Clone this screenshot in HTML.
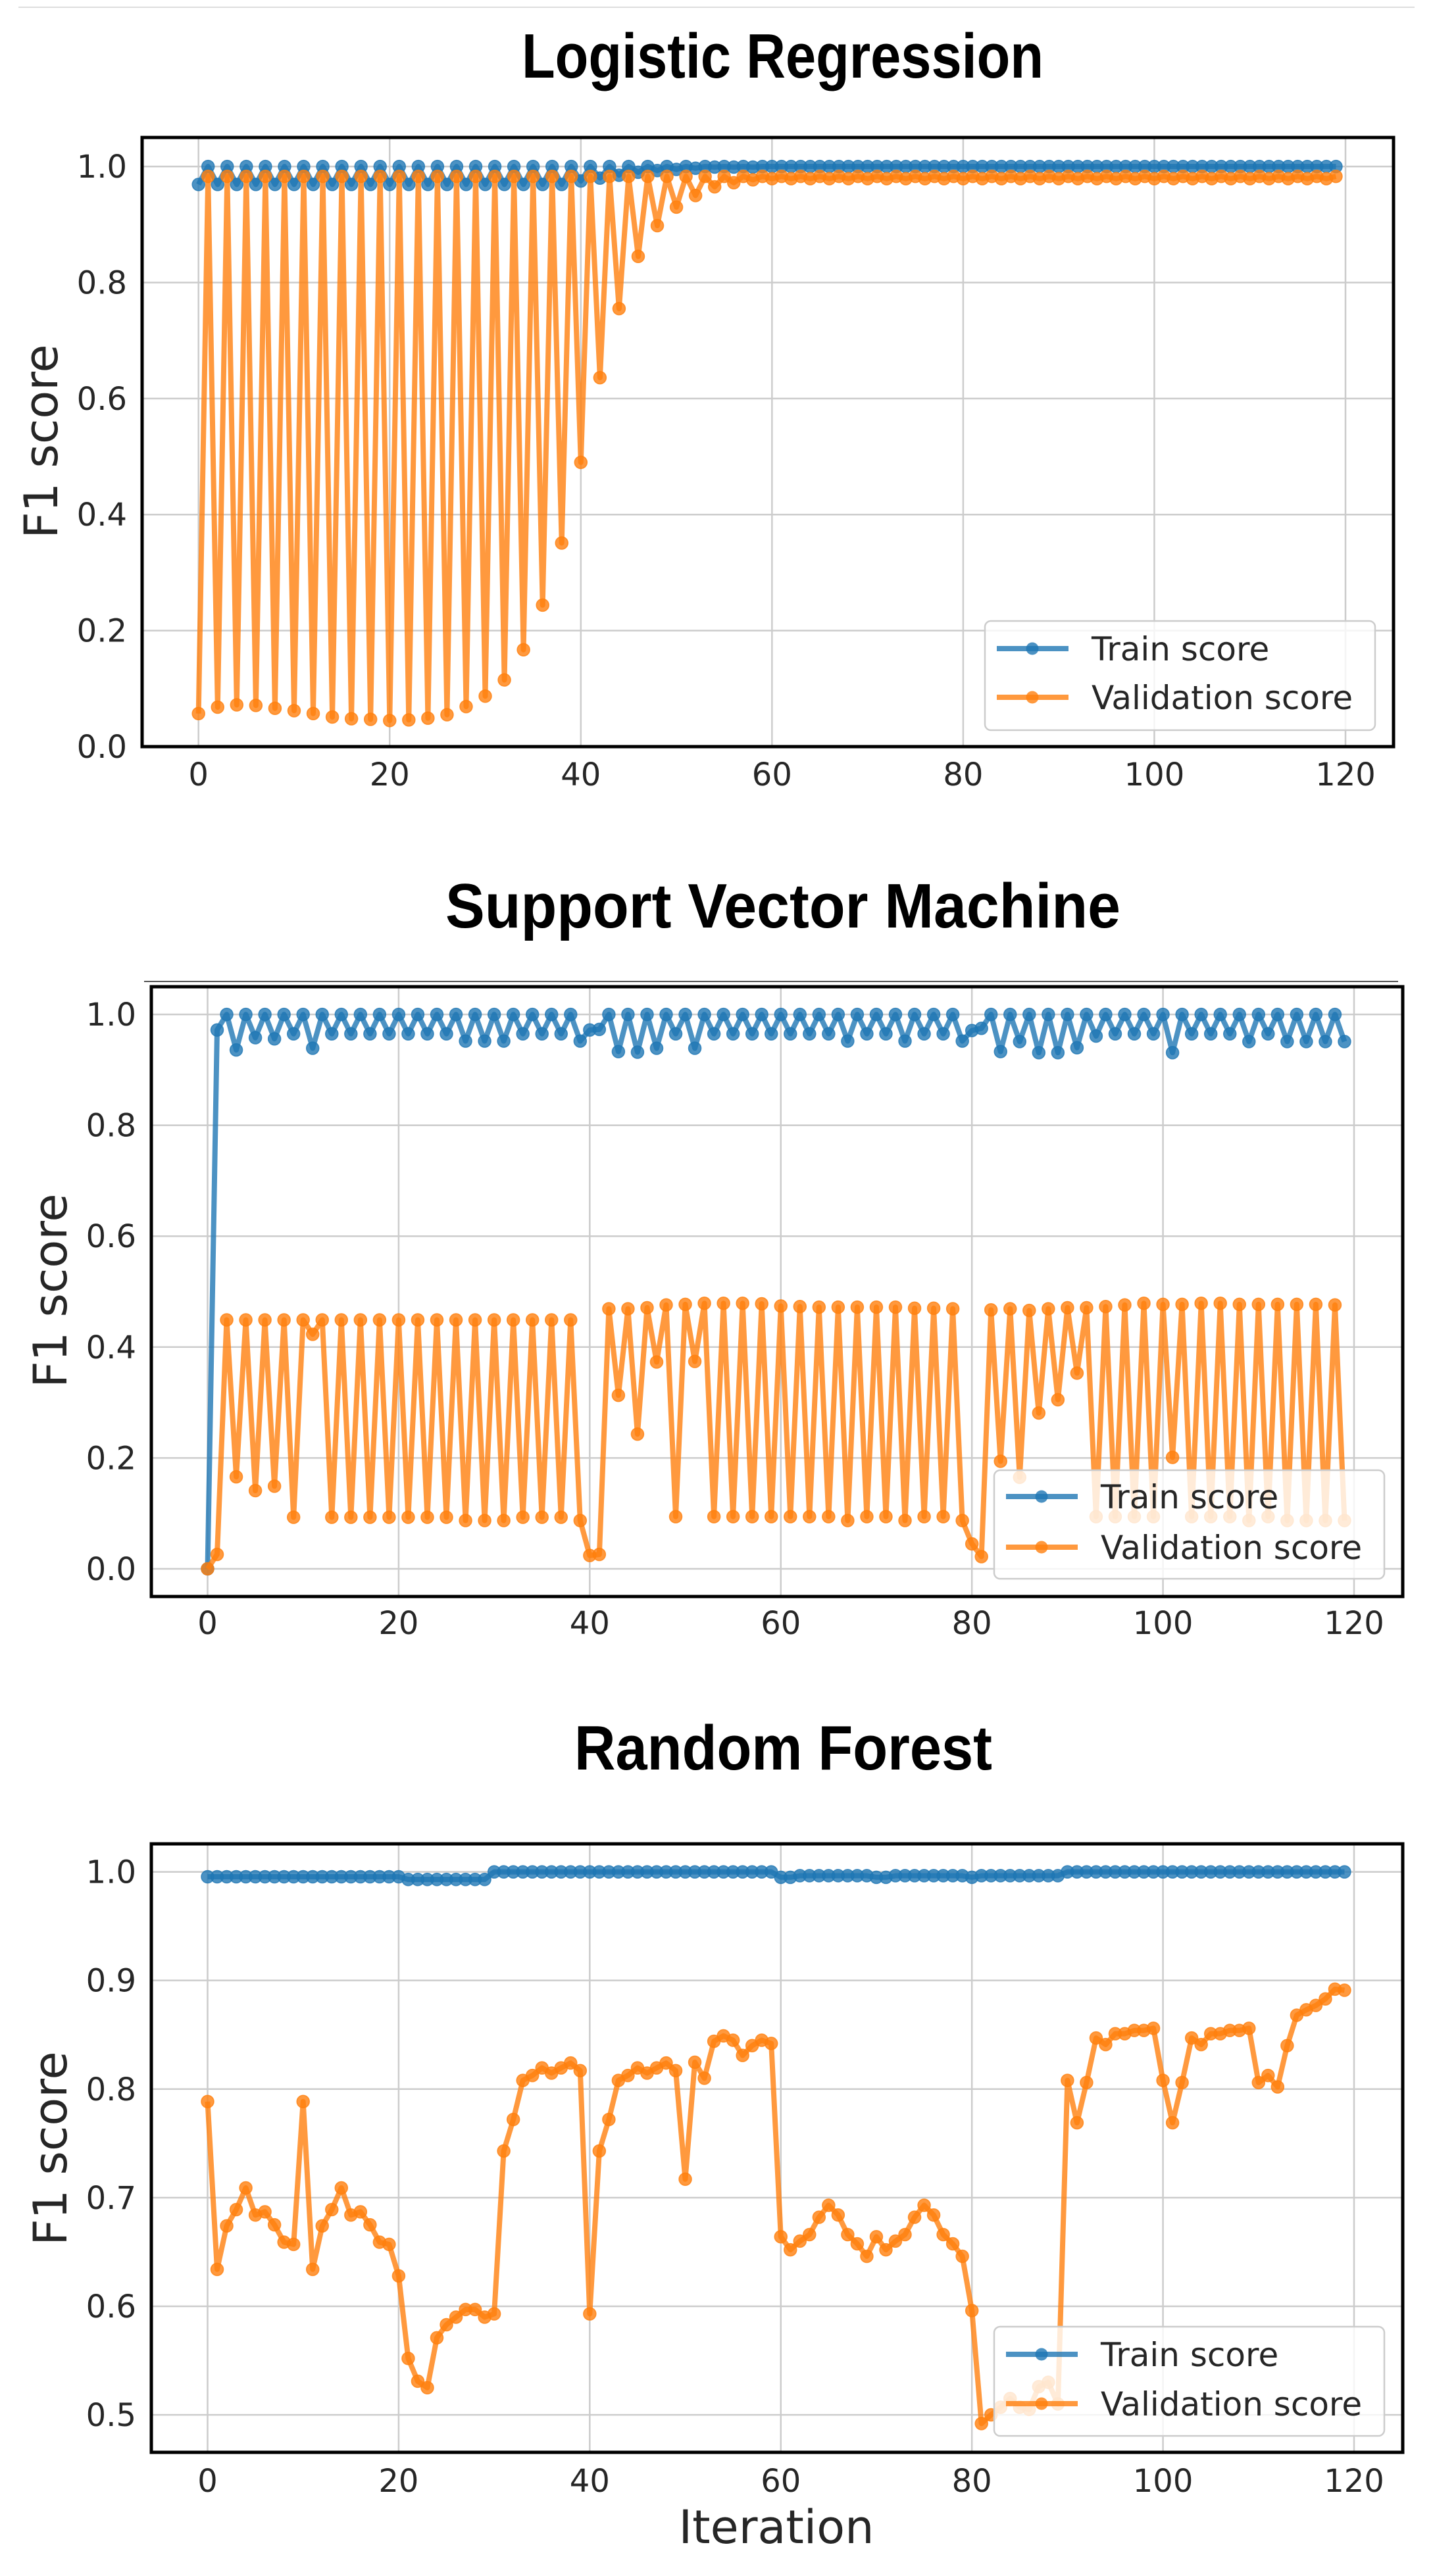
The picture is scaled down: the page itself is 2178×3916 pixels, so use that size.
<!DOCTYPE html>
<html><head><meta charset="utf-8">
<style>
html,body{margin:0;padding:0;background:#fff;}
svg{display:block;}
.tick{font-family:"DejaVu Sans",sans-serif;font-size:48px;fill:#262626;}
.lab{font-family:"DejaVu Sans",sans-serif;font-size:70px;fill:#262626;}
.leg{font-family:"DejaVu Sans",sans-serif;font-size:50px;fill:#262626;}
.ttl{font-family:"Liberation Sans Narrow","Liberation Sans",sans-serif;font-weight:bold;font-size:96px;fill:#000;}
</style></head>
<body>
<svg id="fig" xmlns="http://www.w3.org/2000/svg" width="2178" height="3916" viewBox="0 0 2178 3916">
<rect width="2178" height="3916" fill="#fff"/>
<line x1="28" y1="11" x2="2150" y2="11" stroke="#ddd" stroke-width="2"/>
<line x1="219" y1="1492" x2="2125" y2="1492" stroke="#555" stroke-width="2"/>
</svg>
<script>
// ---------- data ----------
const iterTicks = [0, 20, 40, 60, 80, 100, 120];
const lrYTicks = ["0.0","0.2","0.4","0.6","0.8","1.0"];
const svmYTicks = ["0.0","0.2","0.4","0.6","0.8","1.0"];
const rfYTicks = ["0.5","0.6","0.7","0.8","0.9","1.0"];
const seriesLabels = ["Train score","Validation score"];
const chartTitles = ["Logistic Regression","Support Vector Machine","Random Forest"];

const lrTrain = [
0.969,1,0.969,1,0.969,1,0.969,1,0.969,1,0.969,1,0.969,1,0.969,1,0.969,1,0.969,1,
0.969,1,0.969,1,0.969,1,0.969,1,0.969,1,0.969,1,0.969,1,0.969,1,0.969,1,0.969,1,
0.975,1,0.98,1,0.985,1,0.99,1,0.993,1,0.995,1,0.997,1,0.999,1,0.999,1,0.999,1,
1,1,1,1,1,1,1,1,1,1,1,1,1,1,1,1,1,1,1,1,
1,1,1,1,1,1,1,1,1,1,1,1,1,1,1,1,1,1,1,1,
1,1,1,1,1,1,1,1,1,1,1,1,1,1,1,1,1,1,1,1];
const lrVal = [
0.057,0.983,0.068,0.983,0.072,0.983,0.071,0.983,0.066,0.983,0.062,0.983,0.057,0.983,0.051,0.983,0.048,0.983,0.047,0.983,
0.045,0.983,0.046,0.983,0.049,0.983,0.055,0.983,0.069,0.983,0.087,0.983,0.115,0.983,0.167,0.983,0.244,0.983,0.351,0.983,
0.49,0.983,0.636,0.983,0.755,0.983,0.845,0.983,0.898,0.983,0.93,0.983,0.95,0.983,0.965,0.983,0.972,0.983,0.977,0.983,
0.979,0.983,0.979,0.983,0.979,0.983,0.979,0.983,0.979,0.983,0.979,0.983,0.979,0.983,0.979,0.983,0.979,0.983,0.979,0.983,
0.979,0.983,0.979,0.983,0.979,0.983,0.979,0.983,0.979,0.983,0.979,0.983,0.979,0.983,0.979,0.983,0.979,0.983,0.979,0.983,
0.979,0.983,0.979,0.983,0.979,0.983,0.979,0.983,0.979,0.983,0.979,0.983,0.979,0.983,0.979,0.983,0.979,0.983,0.979,0.983];

const svmTrain = [
0,0.972,1,0.936,1,0.958,1,0.956,1,0.965,1,0.939,1,0.965,1,0.965,1,0.965,1,0.965,
1,0.965,1,0.965,1,0.965,1,0.952,1,0.952,1,0.952,1,0.965,1,0.965,1,0.965,1,0.952,
0.972,0.973,1,0.933,1,0.932,1,0.939,1,0.965,1,0.939,1,0.965,1,0.965,1,0.965,1,0.965,
1,0.965,1,0.965,1,0.965,1,0.952,1,0.965,1,0.965,1,0.952,1,0.965,1,0.965,1,0.952,
0.971,0.975,1,0.933,1,0.951,1,0.931,1,0.931,1,0.94,1,0.961,1,0.965,1,0.965,1,0.965,
1,0.931,1,0.965,1,0.965,1,0.965,1,0.951,1,0.965,1,0.951,1,0.951,1,0.951,1,0.951];
const svmVal = [
0,0.026,0.449,0.166,0.449,0.141,0.449,0.149,0.449,0.093,0.449,0.423,0.449,0.093,0.449,0.093,0.449,0.093,0.449,0.093,
0.449,0.093,0.449,0.093,0.449,0.093,0.449,0.087,0.449,0.087,0.449,0.087,0.449,0.093,0.449,0.093,0.449,0.093,0.449,0.087,
0.024,0.026,0.469,0.313,0.469,0.243,0.471,0.373,0.476,0.094,0.477,0.374,0.479,0.094,0.479,0.094,0.479,0.094,0.478,0.094,
0.474,0.094,0.473,0.094,0.472,0.094,0.472,0.087,0.472,0.094,0.472,0.094,0.472,0.087,0.470,0.094,0.470,0.094,0.469,0.087,
0.045,0.022,0.467,0.194,0.469,0.165,0.466,0.281,0.469,0.305,0.471,0.353,0.471,0.094,0.473,0.094,0.476,0.094,0.479,0.094,
0.477,0.201,0.477,0.094,0.479,0.094,0.479,0.094,0.477,0.087,0.477,0.094,0.477,0.087,0.477,0.087,0.477,0.087,0.476,0.087];

const rfTrain = [
0.9955,0.9955,0.9955,0.9955,0.9955,0.9955,0.9955,0.9955,0.9955,0.9955,0.9955,0.9955,0.9955,0.9955,0.9955,0.9955,0.9955,0.9955,0.9955,0.9955,
0.9955,0.993,0.993,0.993,0.993,0.993,0.993,0.993,0.993,0.993,1,1,1,1,1,1,1,1,1,1,
1,1,1,1,1,1,1,1,1,1,1,1,1,1,1,1,1,1,1,1,
0.995,0.995,0.9965,0.9965,0.9965,0.9965,0.9965,0.9965,0.9965,0.9965,0.995,0.995,0.9965,0.9965,0.9965,0.9965,0.9965,0.9965,0.9965,0.9965,
0.995,0.9965,0.9965,0.9965,0.9965,0.9965,0.9965,0.9965,0.9965,0.9965,1,1,1,1,1,1,1,1,1,1,
1,1,1,1,1,1,1,1,1,1,1,1,1,1,1,1,1,1,1,1];
const rfVal = [
0.7885,0.634,0.674,0.689,0.709,0.684,0.687,0.675,0.659,0.657,0.7885,0.634,0.674,0.689,0.709,0.684,0.687,0.675,0.659,0.657,
0.628,0.552,0.531,0.525,0.571,0.583,0.590,0.597,0.597,0.590,0.593,0.743,0.772,0.808,0.8125,0.8195,0.8147,0.8195,0.824,0.817,
0.593,0.743,0.772,0.808,0.8125,0.8195,0.8147,0.8195,0.824,0.817,0.717,0.8247,0.81,0.844,0.849,0.845,0.831,0.84,0.845,0.842,
0.664,0.652,0.660,0.666,0.682,0.693,0.684,0.666,0.6575,0.646,0.664,0.652,0.660,0.666,0.682,0.693,0.684,0.666,0.6575,0.646,
0.596,0.492,0.5,0.507,0.515,0.507,0.505,0.526,0.530,0.510,0.808,0.769,0.806,0.847,0.841,0.851,0.851,0.854,0.854,0.856,
0.808,0.769,0.806,0.847,0.841,0.851,0.851,0.854,0.854,0.856,0.806,0.8125,0.802,0.84,0.868,0.873,0.877,0.883,0.892,0.891];

// ---------- layout ----------
const NS = "http://www.w3.org/2000/svg";
const svg = document.getElementById("fig");
const C_TRAIN = "#1f77b4", C_VAL = "#ff7f0e";

function mk(tag, attrs, parent) {
  const e = document.createElementNS(NS, tag);
  for (const k in attrs) e.setAttribute(k, attrs[k]);
  (parent || svg).appendChild(e);
  return e;
}

const charts = [
  {key:"lr", title:0, train:lrTrain, val:lrVal, yTicks:lrYTicks, ymin:0, ymax:1.05,
   box:{l:216,r:2118,t:209,b:1135}, x0:301.7, x120:2045,
   titleBase:118, titleX1:793, titleX2:1586, ylab:[63,671], xTickY:1194,
   leg:{l:1497,r:2090,t:944,b:1110,y1:986,y2:1060}},
  {key:"svm", title:1, train:svmTrain, val:svmVal, yTicks:svmYTicks, ymin:-0.05, ymax:1.05,
   box:{l:230,r:2132,t:1500,b:2427}, x0:315.5, x120:2058,
   titleBase:1410, titleX1:677, titleX2:1703, ylab:[77,1962], xTickY:2484,
   leg:{l:1511,r:2104,t:2235,b:2400,y1:2275,y2:2352}},
  {key:"rf", title:2, train:rfTrain, val:rfVal, yTicks:rfYTicks, ymin:0.4655, ymax:1.0258,
   box:{l:230,r:2132,t:2803,b:3728}, x0:315.5, x120:2058,
   titleBase:2690, titleX1:873, titleX2:1508, ylab:[77,3266], xTickY:3788, xlabel:true,
   leg:{l:1511,r:2104,t:3537,b:3703,y1:3579,y2:3654}}
];

charts.forEach(c => {
  const B = c.box;
  const xs = v => c.x0 + (c.x120 - c.x0) * v / 120;
  const ys = v => B.b - (v - c.ymin) / (c.ymax - c.ymin) * (B.b - B.t);
  const g = mk("g", {});
  
  

  const t = mk("text", {class:"ttl", x:c.titleX1, y:c.titleBase, textLength:c.titleX2 - c.titleX1, lengthAdjust:"spacingAndGlyphs"}, g);
  
  
  t.textContent = chartTitles[c.title];

  const grid = mk("g", {stroke:"#cccccc","stroke-width":2.5}, g);
  
  
  iterTicks.forEach(v => { mk("line", {x1:xs(v), x2:xs(v), y1:B.t, y2:B.b}, grid); });
  c.yTicks.forEach(s => { const y = ys(parseFloat(s)); mk("line", {x1:B.l, x2:B.r, y1:y, y2:y}, grid); });

  iterTicks.forEach(v => {
    const e = mk("text", {class:"tick", x:xs(v), y:c.xTickY, "text-anchor":"middle"}, g);
    
    
    e.textContent = v;
  });
  c.yTicks.forEach(s => {
    const e = mk("text", {class:"tick", x:B.l - 23, y:ys(parseFloat(s)) + 17, "text-anchor":"end"}, g);
    
    
    e.textContent = s;
  });

  const yl = mk("text", {class:"lab", x:c.ylab[0], y:c.ylab[1], "text-anchor":"middle", "dominant-baseline":"central", transform:"rotate(-90 " + c.ylab[0] + " " + c.ylab[1] + ")"}, g);
  
  
  yl.textContent = "F1 score";

  if (c.xlabel) {
    const xl = mk("text", {class:"lab", x:1180, y:3866, "text-anchor":"middle"}, g);
    
    
    xl.textContent = "Iteration";
  }

  [[c.train, C_TRAIN, "train"], [c.val, C_VAL, "validation"]].forEach(([arr, col, nm]) => {
    const sg = mk("g", {}, g);
    
    
    const pts = arr.map((v, i) => xs(i).toFixed(1) + "," + ys(v).toFixed(1)).join(" ");
    const pl = mk("polyline", {points:pts, fill:"none", stroke:col, "stroke-width":8, "stroke-opacity":0.8, "stroke-linejoin":"round"}, sg);
    
    
    arr.forEach((v, i) => {
      const p = mk("circle", {cx:xs(i), cy:ys(v), r:9.5, fill:col, "fill-opacity":0.8, stroke:col, "stroke-opacity":0.8, "stroke-width":1.5}, sg);
      
      
    });
  });

  const fr = mk("rect", {x:B.l, y:B.t, width:B.r - B.l, height:B.b - B.t, fill:"none", stroke:"#000", "stroke-width":5}, g);
  
  

  const L = c.leg;
  const lg = mk("g", {}, g);
  
  
  mk("rect", {x:L.l, y:L.t, width:L.r - L.l, height:L.b - L.t, rx:9, fill:"#fff", "fill-opacity":0.8, stroke:"#cccccc", "stroke-width":2.5}, lg);
  [[L.y1, C_TRAIN, 0], [L.y2, C_VAL, 1]].forEach(([y, col, k]) => {
    const en = mk("g", {}, lg);
    
    
    mk("line", {x1:L.l + 18, x2:L.l + 127, y1:y, y2:y, stroke:col, "stroke-width":8, "stroke-opacity":0.8}, en);
    mk("circle", {cx:L.l + 72, cy:y, r:9.5, fill:col, "fill-opacity":0.8}, en);
    const tx = mk("text", {class:"leg", x:L.l + 162, y:y + 18}, en);
    tx.textContent = seriesLabels[k];
  });
});
</script>
</body></html>
